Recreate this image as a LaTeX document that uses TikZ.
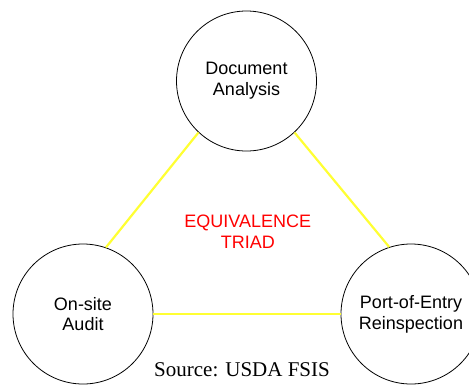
\documentclass[tikz,border=0pt]{standalone}
\usepackage{fontspec}
\setmainfont{Liberation Serif}
\newfontfamily\arialfont{Liberation Sans}
\definecolor{triyellow}{RGB}{255,255,51}
\definecolor{trired}{RGB}{255,0,0}
\begin{document}
\begin{tikzpicture}[x=1pt,y=-1pt,
  stagecircle/.style={circle,draw=black,line width=0.8pt,minimum size=140pt,inner sep=0pt,
    align=center,font=\arialfont\fontsize{18}{20.8}\selectfont},
  link/.style={draw=triyellow,line width=2.2pt},
  triadlabel/.style={align=center,text=trired,font=\arialfont\fontsize{18}{21}\selectfont},
  sourcelabel/.style={font=\fontsize{21}{24}\selectfont,inner sep=0pt}]
\useasboundingbox (0,0) rectangle (469,384);
\node[stagecircle] (doc) at (246.5,81) {Document\\Analysis};
\node[stagecircle] (audit) at (83,314) {On-site\\Audit};
\node[stagecircle] (port) at (411,314) {Port-of-Entry\\Reinspection};
\draw[link] (doc.227.6) -- (audit.71.6);
\draw[link] (doc.313) -- (port.108.4);
\draw[link] (audit.east) -- (port.west);
\node[triadlabel] (triad) at (247.8,232) {EQUIVALENCE\\TRIAD};
\node[sourcelabel,anchor=base] (src) at (242,376.7) {Source: USDA FSIS};
\end{tikzpicture}
\end{document}
